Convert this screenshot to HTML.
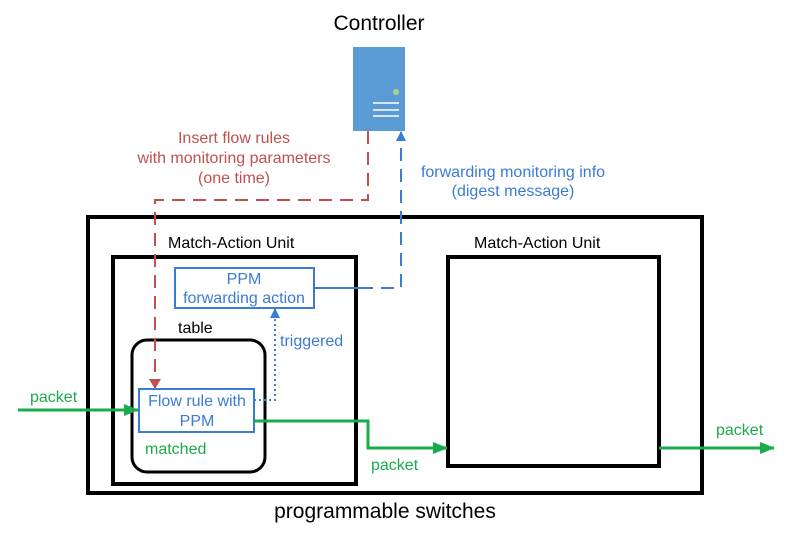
<!DOCTYPE html>
<html><head><meta charset="utf-8"><style>
body{margin:0;background:#fff}
text{font-family:"Liberation Sans",Arial,sans-serif}
</style></head><body>
<svg width="794" height="536" viewBox="0 0 794 536" xmlns="http://www.w3.org/2000/svg">
<defs>
<marker id="ar" markerWidth="10" markerHeight="12" refX="9" refY="6" orient="auto" markerUnits="userSpaceOnUse"><path d="M0,0 L10,6 L0,12 z" fill="#c0504d"/></marker>
<marker id="ab" markerWidth="10" markerHeight="10" refX="9" refY="5" orient="auto" markerUnits="userSpaceOnUse"><path d="M0,0 L10,5 L0,10 z" fill="#3a7bd5"/></marker>
<marker id="ag" markerWidth="15" markerHeight="12" refX="14" refY="6" orient="auto" markerUnits="userSpaceOnUse"><path d="M0,0 L15,6 L0,12 z" fill="#1aab4a"/></marker>
</defs>
<text x="379" y="30" font-size="21" text-anchor="middle">Controller</text>
<rect x="353" y="47" width="52" height="84" fill="#5b9bd5"/>
<circle cx="396" cy="92" r="3" fill="#a9d18e"/>
<g stroke="#fff" stroke-width="1.5"><line x1="373" y1="103" x2="399" y2="103"/><line x1="373" y1="110" x2="399" y2="110"/><line x1="373" y1="116" x2="399" y2="116"/></g>
<g font-size="16" fill="#c0504d" text-anchor="middle"><text x="234" y="143">Insert flow rules</text><text x="234" y="163">with monitoring parameters</text><text x="234" y="183">(one time)</text></g>
<g font-size="16" fill="#3a7bd5" text-anchor="middle"><text x="513" y="177">forwarding monitoring info</text><text x="513" y="196">(digest message)</text></g>
<rect x="88" y="217" width="614" height="276" fill="none" stroke="#000" stroke-width="4"/>
<rect x="113" y="257" width="243" height="227" fill="none" stroke="#000" stroke-width="4"/>
<rect x="448" y="257" width="211" height="209" fill="none" stroke="#000" stroke-width="4"/>
<rect x="132" y="340" width="133" height="132" rx="15" fill="none" stroke="#000" stroke-width="3"/>
<g font-size="16"><text x="168" y="248">Match-Action Unit</text><text x="474" y="248">Match-Action Unit</text><text x="178" y="333">table</text></g>
<text x="385" y="518" font-size="21" text-anchor="middle">programmable switches</text>
<rect x="175" y="268" width="139" height="40" fill="#fff" stroke="#3a7bd5" stroke-width="2"/>
<g font-size="16" fill="#3a7bd5" text-anchor="middle"><text x="244" y="284">PPM</text><text x="244" y="303">forwarding action</text></g>
<rect x="139" y="389" width="115" height="43" fill="#fff" stroke="#3a7bd5" stroke-width="2"/>
<g font-size="16" fill="#3a7bd5" text-anchor="middle"><text x="197" y="406">Flow rule with</text><text x="197" y="426">PPM</text></g>
<path d="M368,131 V200 H155 V388" fill="none" stroke="#c0504d" stroke-width="2" stroke-dasharray="13,8" marker-end="url(#ar)"/>
<path d="M314,288 H360" stroke="#3a7bd5" stroke-width="2"/>
<path d="M360,288 H401 V132" fill="none" stroke="#3a7bd5" stroke-width="2" stroke-dasharray="13,8" marker-end="url(#ab)"/>
<path d="M254,400 H275 V309" fill="none" stroke="#3a7bd5" stroke-width="2" stroke-dasharray="2,3" marker-end="url(#ab)"/>
<text x="280" y="346" font-size="16" fill="#3a7bd5">triggered</text>
<g stroke="#1aab4a" stroke-width="3" fill="none">
<path d="M18,410 H138" marker-end="url(#ag)"/>
<path d="M254,421 H368 V448 H447" marker-end="url(#ag)"/>
<path d="M659,448 H774" marker-end="url(#ag)"/>
</g>
<g font-size="16" fill="#1aab4a"><text x="30" y="402">packet</text><text x="145" y="454">matched</text><text x="371" y="470">packet</text><text x="716" y="435">packet</text></g>
</svg>
</body></html>
